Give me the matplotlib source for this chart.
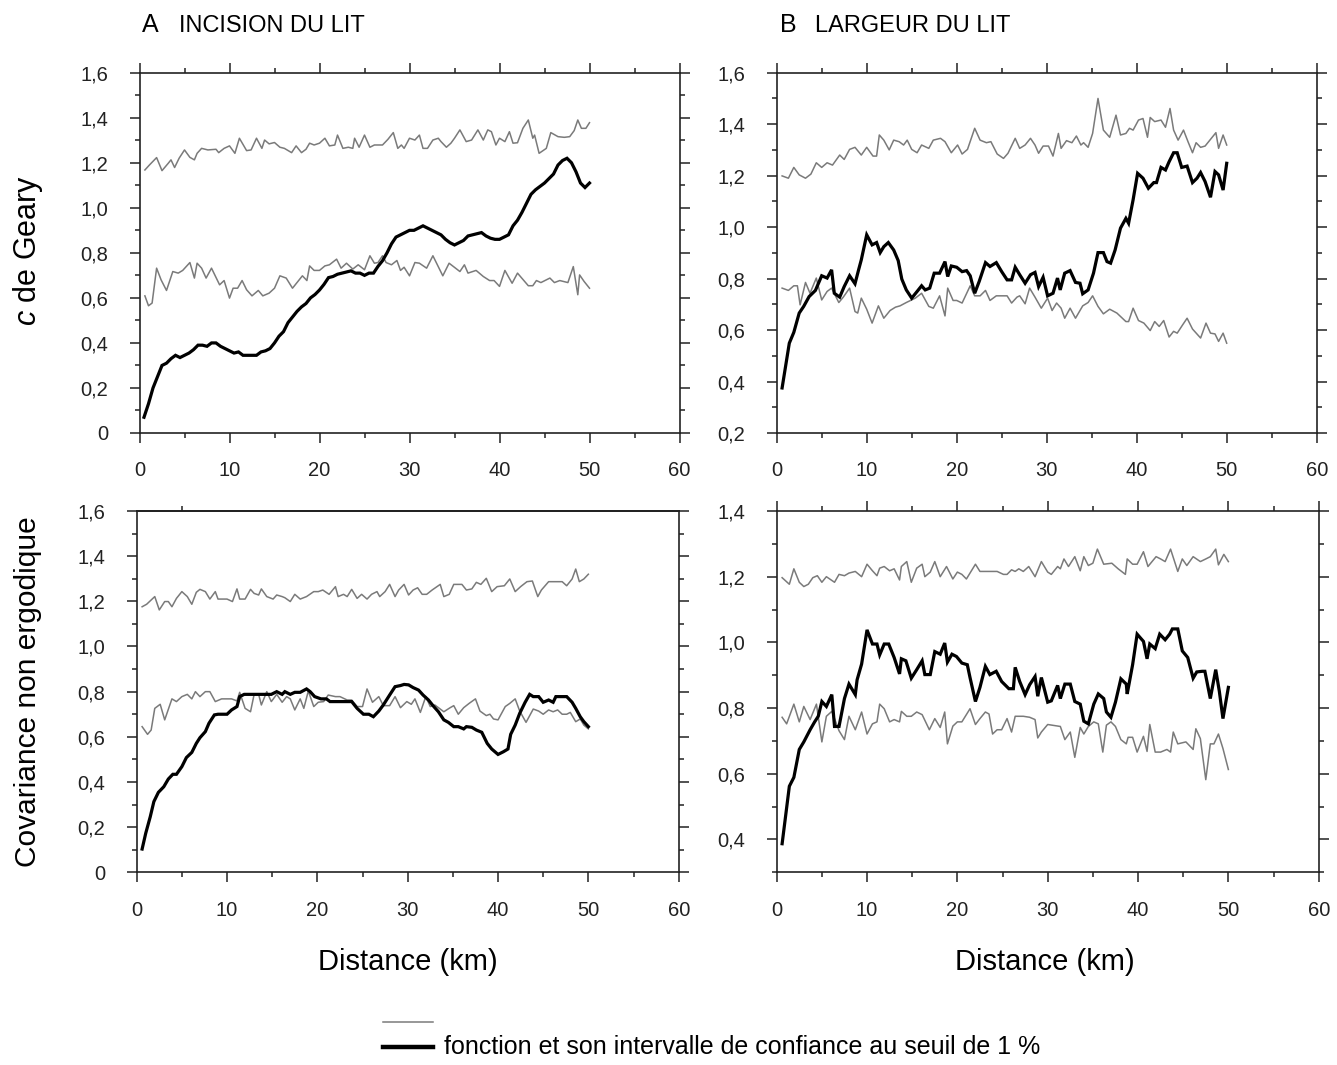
import numpy as np
import matplotlib
matplotlib.use("Agg")
import matplotlib.pyplot as plt
from matplotlib.ticker import MultipleLocator, FuncFormatter
from matplotlib.lines import Line2D

plt.rcParams['font.family'] = ['Liberation Sans', 'DejaVu Sans']
plt.rcParams['mathtext.fontset'] = 'custom'
plt.rcParams['mathtext.it'] = 'Liberation Sans:italic'
plt.rcParams['mathtext.rm'] = 'Liberation Sans'

# ---- A: incision du lit, c de Geary ----
a_geary_lag = np.arange(0.5, 50.01, 0.5)
a_geary_fn = [0.07, 0.13, 0.20, 0.25, 0.30, 0.31, 0.33, 0.345, 0.335, 0.345,
              0.355, 0.37, 0.39, 0.39, 0.385, 0.40, 0.40, 0.385, 0.375, 0.365,
              0.355, 0.36, 0.345, 0.345, 0.345, 0.345, 0.36, 0.365, 0.375, 0.40,
              0.43, 0.45, 0.49, 0.515, 0.54, 0.56, 0.575, 0.60, 0.615, 0.635,
              0.66, 0.69, 0.695, 0.705, 0.71, 0.715, 0.72, 0.71, 0.71, 0.70,
              0.71, 0.71, 0.74, 0.765, 0.80, 0.84, 0.87, 0.88, 0.89, 0.90,
              0.90, 0.91, 0.92, 0.91, 0.90, 0.89, 0.88, 0.86, 0.845, 0.835,
              0.845, 0.855, 0.875, 0.88, 0.885, 0.89, 0.875, 0.865, 0.86, 0.86,
              0.87, 0.88, 0.92, 0.945, 0.98, 1.02, 1.06, 1.08, 1.095, 1.11,
              1.13, 1.15, 1.19, 1.21, 1.22, 1.20, 1.16, 1.11, 1.09, 1.11]

a_geary_hi_x = [0.6, 1.1, 1.9, 2.5, 3.2, 3.5, 3.9, 4.4, 5.0, 5.6, 6.1, 6.4, 6.9, 7.6, 8.5, 8.8, 9.4, 10.0, 10.6, 11.1,
                11.9, 12.4, 13.0, 13.6, 13.9, 14.4, 15.0, 15.6, 16.1, 16.9, 17.4, 18.0, 18.5, 18.9, 19.4, 20.0, 20.6, 21.1, 21.7, 22.0,
                22.6, 23.2, 23.7, 23.9, 24.4, 25.0, 25.6, 26.1, 27.0, 27.6, 28.2, 28.7, 29.1, 29.4, 30.0, 30.6, 31.1, 31.5, 32.0, 32.6,
                33.2, 33.5, 34.1, 34.6, 35.0, 35.6, 36.3, 36.9, 37.6, 38.2, 38.7, 39.1, 39.6, 40.0, 40.6, 41.1, 41.5, 42.0, 42.6, 43.2,
                43.7, 43.9, 44.4, 45.2, 45.7, 46.5, 47.2, 47.8, 48.3, 48.7, 49.1, 49.6, 50.0]
a_geary_hi = [1.168, 1.19, 1.223, 1.165, 1.198, 1.213, 1.179, 1.22, 1.257, 1.224, 1.213, 1.242, 1.264, 1.257, 1.26, 1.245, 1.264, 1.275, 1.242, 1.309,
              1.254, 1.257, 1.309, 1.264, 1.301, 1.284, 1.29, 1.269, 1.264, 1.245, 1.275, 1.245, 1.26, 1.287, 1.279, 1.287, 1.309, 1.275, 1.279, 1.323,
              1.264, 1.269, 1.264, 1.309, 1.269, 1.323, 1.269, 1.279, 1.279, 1.304, 1.334, 1.264, 1.279, 1.264, 1.309, 1.301, 1.323, 1.264, 1.264, 1.301,
              1.309, 1.294, 1.269, 1.287, 1.309, 1.346, 1.294, 1.301, 1.346, 1.301, 1.346, 1.338, 1.279, 1.309, 1.294, 1.338, 1.287, 1.289, 1.353, 1.39,
              1.309, 1.323, 1.242, 1.264, 1.334, 1.316, 1.313, 1.316, 1.343, 1.39, 1.353, 1.353, 1.378]

a_geary_lo_x = [0.6, 1.0, 1.4, 1.9, 2.4, 3.0, 3.7, 4.3, 4.8, 5.6, 6.1, 6.4, 6.9, 7.4, 8.0, 8.9, 9.4, 10.0, 10.4, 10.9,
                11.4, 11.9, 12.5, 13.2, 13.7, 14.4, 15.0, 15.6, 16.3, 17.0, 17.5, 18.1, 18.6, 18.9, 19.4, 20.0, 20.6, 21.1, 21.9, 22.4,
                23.0, 23.7, 24.3, 25.0, 25.6, 26.1, 26.5, 27.0, 27.4, 28.0, 28.6, 29.0, 29.4, 30.0, 30.6, 31.1, 31.9, 32.6, 33.7, 34.4,
                35.6, 36.1, 36.5, 37.4, 38.2, 38.9, 39.4, 40.0, 40.6, 41.4, 42.0, 43.2, 43.7, 44.1, 44.6, 45.6, 46.1, 46.7, 47.6, 48.2,
                48.7, 48.9, 49.4, 50.0]
a_geary_lo = [0.609, 0.565, 0.577, 0.732, 0.68, 0.633, 0.717, 0.71, 0.722, 0.757, 0.688, 0.754, 0.732, 0.688, 0.732, 0.658, 0.677, 0.599, 0.643, 0.643,
              0.677, 0.636, 0.609, 0.633, 0.609, 0.621, 0.643, 0.698, 0.688, 0.643, 0.668, 0.698, 0.677, 0.742, 0.722, 0.722, 0.742, 0.747, 0.772, 0.732,
              0.754, 0.728, 0.747, 0.725, 0.787, 0.754, 0.757, 0.787, 0.757, 0.747, 0.766, 0.722, 0.736, 0.698, 0.757, 0.754, 0.732, 0.787, 0.698, 0.754,
              0.717, 0.747, 0.71, 0.722, 0.695, 0.677, 0.677, 0.651, 0.722, 0.665, 0.71, 0.654, 0.654, 0.677, 0.668, 0.688, 0.668, 0.677, 0.668, 0.739,
              0.614, 0.702, 0.673, 0.643]

# ---- B: largeur du lit, c de Geary ----
b_geary_x = [0.6, 1.4, 1.9, 2.5, 3.0, 3.6, 4.3, 5.0, 5.6, 6.1, 6.4, 7.0, 7.5, 8.1, 8.7, 9.1, 9.4, 10.0, 10.6, 11.1,
             11.5, 11.9, 12.4, 13.0, 13.5, 13.9, 14.4, 15.0, 15.6, 16.1, 16.5, 17.0, 17.5, 18.1, 18.7, 19.0, 19.4, 20.0, 20.6, 21.1,
             21.5, 22.0, 22.5, 23.2, 23.7, 24.4, 25.0, 25.6, 26.1, 26.5, 27.0, 27.6, 28.2, 28.7, 29.1, 29.6, 30.1, 30.7, 31.2, 31.5,
             32.0, 32.6, 33.2, 33.7, 34.0, 34.6, 35.2, 35.7, 36.3, 36.7, 37.1, 37.6, 38.2, 38.8, 39.1, 39.6, 40.1, 40.7, 41.3, 41.9,
             42.2, 42.7, 43.2, 43.6, 44.1, 44.5, 45.0, 45.6, 46.2, 46.7, 47.1, 47.6, 48.2, 48.7, 49.1, 49.6, 50.0]
b_geary_fn = [0.375, 0.549, 0.591, 0.666, 0.692, 0.73, 0.754, 0.811, 0.802, 0.834, 0.743, 0.728, 0.769, 0.811, 0.78, 0.834, 0.873, 0.97, 0.931, 0.94,
              0.901, 0.924, 0.94, 0.911, 0.87, 0.798, 0.756, 0.724, 0.75, 0.772, 0.756, 0.763, 0.821, 0.821, 0.866, 0.808, 0.849, 0.844, 0.827, 0.831,
              0.811, 0.743, 0.789, 0.862, 0.847, 0.862, 0.827, 0.795, 0.795, 0.844, 0.815, 0.782, 0.815, 0.824, 0.769, 0.805, 0.733, 0.743, 0.802, 0.756,
              0.821, 0.831, 0.785, 0.782, 0.741, 0.756, 0.821, 0.901, 0.901, 0.866, 0.86, 0.911, 0.996, 1.034, 1.015, 1.106, 1.209, 1.19, 1.151, 1.173,
              1.173, 1.232, 1.222, 1.254, 1.289, 1.289, 1.232, 1.237, 1.173, 1.19, 1.212, 1.177, 1.116, 1.216, 1.203, 1.144, 1.248]

b_geary_hi_x = [0.6, 1.3, 1.9, 2.5, 3.2, 3.8, 4.4, 5.0, 5.6, 6.2, 7.0, 7.5, 8.1, 8.7, 9.4, 10.0, 10.7, 11.1, 11.4, 11.9,
                12.5, 13.0, 13.6, 14.1, 14.5, 15.0, 15.6, 16.1, 16.9, 17.4, 18.2, 18.7, 19.4, 20.1, 20.6, 21.2, 22.0, 22.6, 23.3, 23.8,
                24.5, 25.2, 25.7, 26.5, 27.0, 27.6, 28.2, 28.7, 29.1, 29.6, 30.2, 30.7, 31.3, 31.6, 32.2, 32.8, 33.3, 33.8, 34.1, 34.6,
                35.1, 35.7, 36.3, 37.0, 37.7, 38.2, 38.8, 39.2, 39.6, 40.2, 40.7, 41.2, 41.5, 42.0, 42.7, 43.2, 43.7, 44.1, 44.6, 45.2,
                45.7, 46.2, 46.6, 47.1, 47.6, 48.2, 48.8, 49.1, 49.6, 50.0]
b_geary_hi = [1.199, 1.19, 1.232, 1.203, 1.19, 1.206, 1.25, 1.232, 1.25, 1.241, 1.28, 1.263, 1.302, 1.31, 1.28, 1.31, 1.276, 1.276, 1.358, 1.338,
              1.3, 1.338, 1.332, 1.319, 1.338, 1.302, 1.289, 1.319, 1.306, 1.338, 1.345, 1.332, 1.289, 1.319, 1.284, 1.302, 1.384, 1.338, 1.328, 1.332,
              1.284, 1.267, 1.287, 1.345, 1.306, 1.319, 1.345, 1.319, 1.287, 1.315, 1.315, 1.276, 1.364, 1.306, 1.336, 1.328, 1.354, 1.319, 1.328, 1.31,
              1.364, 1.5, 1.377, 1.349, 1.435, 1.358, 1.364, 1.384, 1.377, 1.416, 1.422, 1.349, 1.426, 1.41, 1.416, 1.388, 1.461, 1.377, 1.338, 1.377,
              1.332, 1.289, 1.328, 1.31, 1.315, 1.341, 1.367, 1.306, 1.358, 1.319]

b_geary_lo_x = [0.6, 1.3, 1.9, 2.3, 2.6, 3.2, 3.7, 4.4, 5.0, 5.6, 6.1, 6.9, 7.4, 8.1, 8.7, 9.0, 9.4, 10.0, 10.6, 11.3,
                11.9, 12.6, 13.2, 13.7, 14.4, 15.4, 16.1, 16.9, 17.4, 18.1, 18.7, 19.0, 19.6, 20.0, 20.6, 21.5, 22.0, 22.6, 23.2, 23.7,
                24.4, 25.6, 26.1, 26.7, 27.0, 27.6, 28.1, 28.7, 29.4, 30.1, 30.6, 31.1, 31.6, 32.0, 32.6, 33.2, 34.0, 34.6, 35.1, 35.7,
                36.3, 37.0, 37.8, 38.8, 39.1, 39.6, 40.2, 40.8, 41.5, 42.0, 42.5, 43.0, 43.6, 44.1, 44.5, 45.1, 45.6, 46.2, 47.1, 47.7,
                48.2, 48.7, 49.1, 49.6, 50.0]
b_geary_lo = [0.763, 0.754, 0.772, 0.772, 0.698, 0.785, 0.743, 0.802, 0.717, 0.75, 0.763, 0.707, 0.728, 0.763, 0.672, 0.666, 0.724, 0.681, 0.627, 0.694,
              0.646, 0.676, 0.689, 0.694, 0.707, 0.724, 0.743, 0.692, 0.685, 0.733, 0.655, 0.763, 0.715, 0.715, 0.705, 0.772, 0.733, 0.733, 0.754, 0.715,
              0.733, 0.733, 0.705, 0.728, 0.733, 0.702, 0.763, 0.728, 0.685, 0.724, 0.676, 0.705, 0.685, 0.646, 0.685, 0.646, 0.694, 0.707, 0.733, 0.692,
              0.663, 0.681, 0.666, 0.633, 0.633, 0.685, 0.637, 0.627, 0.598, 0.633, 0.614, 0.637, 0.573, 0.595, 0.588, 0.62, 0.646, 0.604, 0.569, 0.627,
              0.588, 0.585, 0.556, 0.588, 0.549]

# ---- A: incision du lit, covariance non ergodique ----
a_cov_x = [0.6, 1.0, 1.5, 1.9, 2.4, 3.0, 3.5, 4.0, 4.4, 5.0, 5.5, 6.1, 6.6, 7.0, 7.6, 8.0, 8.6, 9.0, 10.0, 10.5,
           11.1, 11.4, 11.9, 12.6, 13.3, 14.0, 14.9, 15.5, 16.1, 16.4, 17.0, 17.5, 18.1, 18.8, 19.2, 19.7, 20.4, 21.0, 21.4, 22.1,
           22.9, 23.8, 24.4, 25.1, 25.7, 26.2, 26.8, 27.3, 28.0, 28.6, 29.2, 29.6, 30.1, 30.6, 31.2, 31.7, 32.3, 32.8, 33.4, 34.0,
           34.5, 35.1, 35.6, 36.2, 36.5, 37.1, 37.6, 38.2, 38.8, 39.3, 40.0, 40.6, 41.1, 41.4, 41.9, 42.4, 43.0, 43.5, 43.9, 44.5,
           45.0, 45.6, 46.1, 46.4, 47.1, 47.6, 48.2, 48.6, 49.1, 49.5, 50.0]
a_cov_fn = [0.103, 0.173, 0.246, 0.313, 0.354, 0.379, 0.413, 0.434, 0.434, 0.468, 0.508, 0.531, 0.571, 0.596, 0.623, 0.66, 0.697, 0.7, 0.7, 0.719,
            0.734, 0.778, 0.788, 0.788, 0.788, 0.788, 0.788, 0.8, 0.788, 0.8, 0.788, 0.797, 0.797, 0.812, 0.8, 0.778, 0.768, 0.768, 0.756, 0.756,
            0.756, 0.756, 0.726, 0.7, 0.7, 0.689, 0.714, 0.741, 0.785, 0.822, 0.827, 0.832, 0.83, 0.818, 0.807, 0.785, 0.763, 0.738, 0.711, 0.675,
            0.664, 0.645, 0.645, 0.635, 0.645, 0.642, 0.63, 0.62, 0.571, 0.546, 0.522, 0.534, 0.546, 0.611, 0.652, 0.704, 0.753, 0.788, 0.778, 0.778,
            0.753, 0.763, 0.753, 0.778, 0.778, 0.778, 0.753, 0.726, 0.689, 0.667, 0.645]

a_cov_hi_x = [0.6, 1.1, 2.0, 2.5, 3.1, 3.5, 3.9, 4.4, 5.0, 5.6, 6.1, 6.6, 7.0, 7.6, 8.1, 8.7, 9.0, 10.0, 10.6, 11.1,
              11.4, 12.0, 12.6, 13.0, 13.5, 13.8, 14.4, 15.1, 15.5, 16.1, 16.4, 17.0, 17.5, 18.1, 18.8, 19.6, 20.1, 20.6, 21.3, 22.0,
              22.3, 22.9, 23.3, 23.8, 24.4, 24.9, 25.5, 26.0, 26.6, 26.9, 27.5, 28.0, 28.6, 29.0, 29.6, 30.1, 30.6, 31.1, 31.6, 32.1,
              32.7, 33.6, 34.0, 34.6, 35.1, 36.0, 36.5, 37.1, 37.6, 38.1, 38.7, 39.3, 39.9, 40.7, 41.3, 41.9, 42.5, 43.2, 43.8, 44.4,
              44.8, 45.6, 46.4, 47.1, 47.6, 48.2, 48.6, 49.0, 49.5, 50.0]
a_cov_hi = [1.176, 1.187, 1.221, 1.162, 1.199, 1.199, 1.176, 1.213, 1.243, 1.221, 1.187, 1.24, 1.253, 1.243, 1.21, 1.243, 1.21, 1.21, 1.199, 1.255,
            1.21, 1.21, 1.253, 1.235, 1.228, 1.255, 1.221, 1.21, 1.228, 1.221, 1.216, 1.199, 1.231, 1.21, 1.221, 1.243, 1.243, 1.25, 1.231, 1.265,
            1.221, 1.231, 1.221, 1.253, 1.213, 1.231, 1.21, 1.231, 1.243, 1.221, 1.243, 1.275, 1.221, 1.25, 1.275, 1.228, 1.25, 1.26, 1.231, 1.231,
            1.25, 1.275, 1.221, 1.231, 1.275, 1.275, 1.25, 1.255, 1.284, 1.275, 1.302, 1.243, 1.265, 1.269, 1.299, 1.243, 1.265, 1.287, 1.29, 1.221,
            1.25, 1.287, 1.287, 1.287, 1.269, 1.299, 1.343, 1.287, 1.299, 1.32]

a_cov_lo_x = [0.6, 1.2, 1.6, 2.0, 2.6, 3.1, 3.9, 4.4, 5.0, 5.6, 6.1, 6.5, 7.0, 7.6, 8.1, 8.7, 9.4, 10.5, 11.1, 11.4,
              12.0, 12.6, 13.0, 13.5, 13.8, 14.4, 14.9, 15.5, 16.1, 16.6, 17.0, 17.5, 18.1, 18.5, 19.0, 19.6, 20.1, 20.7, 21.2, 22.0,
              22.5, 23.3, 23.8, 24.4, 25.0, 25.5, 26.1, 26.8, 27.3, 28.0, 28.6, 29.2, 29.9, 30.4, 30.8, 31.4, 32.0, 32.5, 33.0, 34.0,
              34.7, 35.1, 35.6, 36.2, 36.8, 37.5, 38.0, 38.7, 39.1, 39.5, 40.0, 40.8, 41.3, 41.9, 42.4, 43.1, 43.9, 44.5, 45.0, 45.6,
              46.1, 46.6, 47.1, 47.6, 48.0, 48.6, 49.1, 49.5, 50.0]
a_cov_lo = [0.645, 0.611, 0.63, 0.726, 0.744, 0.675, 0.768, 0.756, 0.778, 0.788, 0.768, 0.8, 0.778, 0.8, 0.8, 0.756, 0.768, 0.768, 0.759, 0.797,
            0.726, 0.711, 0.788, 0.788, 0.741, 0.8, 0.756, 0.788, 0.753, 0.778, 0.768, 0.719, 0.768, 0.726, 0.803, 0.734, 0.753, 0.756, 0.785, 0.778,
            0.778, 0.763, 0.763, 0.734, 0.734, 0.812, 0.753, 0.778, 0.738, 0.738, 0.778, 0.729, 0.756, 0.744, 0.768, 0.708, 0.778, 0.734, 0.741, 0.711,
            0.729, 0.738, 0.7, 0.729, 0.748, 0.768, 0.714, 0.694, 0.7, 0.679, 0.675, 0.734, 0.748, 0.768, 0.714, 0.664, 0.723, 0.714, 0.7, 0.719,
            0.711, 0.719, 0.7, 0.7, 0.708, 0.667, 0.679, 0.652, 0.635]

# ---- B: largeur du lit, covariance non ergodique ----
b_cov_x = [0.6, 1.4, 1.9, 2.5, 3.0, 3.7, 4.2, 4.6, 5.0, 5.5, 6.1, 6.4, 6.9, 7.5, 8.0, 8.7, 8.9, 9.4, 10.0, 10.6,
           11.1, 11.4, 11.9, 12.4, 13.0, 13.6, 13.8, 14.3, 14.9, 15.5, 16.1, 16.4, 17.0, 17.5, 18.1, 18.6, 18.9, 19.4, 19.9, 20.5,
           21.1, 21.4, 22.0, 22.5, 23.1, 23.6, 24.3, 24.9, 25.7, 26.2, 26.4, 26.9, 27.5, 28.0, 28.6, 28.9, 29.3, 30.0, 30.4, 31.1,
           31.4, 31.9, 32.5, 33.0, 33.6, 34.0, 34.5, 35.1, 35.6, 36.2, 36.5, 37.0, 37.5, 38.1, 38.7, 38.8, 39.4, 39.9, 40.6, 41.0,
           41.3, 41.9, 42.4, 43.0, 43.5, 43.8, 44.4, 44.9, 45.5, 46.1, 46.5, 47.1, 47.4, 48.0, 48.6, 49.0, 49.4, 50.0]
b_cov_fn = [0.387, 0.562, 0.589, 0.674, 0.697, 0.734, 0.758, 0.775, 0.82, 0.805, 0.841, 0.744, 0.744, 0.829, 0.873, 0.841, 0.886, 0.934, 1.038, 0.995,
            0.995, 0.962, 0.995, 0.995, 0.954, 0.904, 0.95, 0.944, 0.891, 0.917, 0.944, 0.902, 0.902, 0.972, 0.964, 0.998, 0.94, 0.964, 0.957, 0.937,
            0.932, 0.893, 0.82, 0.863, 0.927, 0.902, 0.912, 0.881, 0.859, 0.859, 0.924, 0.881, 0.841, 0.871, 0.896, 0.836, 0.893, 0.818, 0.822, 0.869,
            0.829, 0.873, 0.873, 0.82, 0.812, 0.76, 0.752, 0.812, 0.843, 0.829, 0.788, 0.772, 0.818, 0.889, 0.873, 0.843, 0.932, 1.025, 1.003, 0.95,
            0.995, 0.981, 1.025, 1.008, 1.025, 1.041, 1.041, 0.974, 0.954, 0.891, 0.91, 0.912, 0.912, 0.829, 0.917, 0.851, 0.768, 0.863]

b_cov_hi_x = [0.6, 1.4, 1.9, 2.5, 3.0, 3.5, 4.0, 4.5, 5.0, 5.5, 6.4, 6.9, 7.5, 8.0, 8.7, 9.4, 10.0, 10.6, 11.1, 11.4,
              11.9, 12.5, 13.0, 13.6, 13.8, 14.4, 14.9, 15.5, 16.1, 16.4, 17.0, 17.5, 18.1, 18.8, 19.5, 20.0, 20.5, 21.0, 22.0, 22.5,
              24.4, 25.1, 25.5, 26.0, 26.4, 26.8, 27.3, 27.9, 28.6, 29.3, 30.0, 30.4, 31.1, 31.4, 31.8, 32.3, 33.0, 33.6, 34.0, 34.5,
              35.0, 35.5, 36.2, 37.1, 37.8, 38.6, 38.8, 39.4, 39.9, 40.6, 41.1, 42.0, 42.5, 43.0, 43.6, 44.4, 44.9, 45.4, 46.1, 46.9,
              47.5, 48.0, 48.6, 48.9, 49.5, 50.0]
b_cov_hi = [1.197, 1.177, 1.224, 1.183, 1.17, 1.177, 1.197, 1.203, 1.183, 1.2, 1.183, 1.207, 1.203, 1.211, 1.216, 1.2, 1.238, 1.218, 1.203, 1.226,
            1.231, 1.218, 1.224, 1.19, 1.231, 1.246, 1.183, 1.226, 1.238, 1.2, 1.214, 1.246, 1.2, 1.231, 1.193, 1.214, 1.207, 1.193, 1.238, 1.216,
            1.216, 1.207, 1.207, 1.221, 1.216, 1.224, 1.216, 1.231, 1.2, 1.246, 1.214, 1.207, 1.231, 1.224, 1.254, 1.231, 1.261, 1.218, 1.261, 1.234,
            1.241, 1.284, 1.238, 1.241, 1.224, 1.207, 1.254, 1.238, 1.238, 1.276, 1.231, 1.261, 1.254, 1.246, 1.284, 1.216, 1.254, 1.234, 1.261, 1.246,
            1.254, 1.261, 1.284, 1.236, 1.268, 1.246]

b_cov_lo_x = [0.6, 1.1, 1.9, 2.5, 3.0, 3.7, 4.4, 5.0, 5.5, 6.1, 6.9, 7.5, 8.0, 8.7, 9.4, 10.0, 10.6, 11.1, 11.4, 11.9,
              12.5, 13.0, 13.6, 13.8, 14.4, 14.9, 15.5, 16.1, 16.9, 17.5, 18.1, 18.6, 18.9, 19.5, 20.0, 20.5, 21.4, 22.0, 22.5, 23.1,
              23.5, 23.9, 24.4, 24.9, 25.5, 26.0, 26.4, 27.3, 28.0, 28.6, 28.9, 29.3, 30.0, 31.4, 31.9, 32.5, 33.0, 33.6, 34.0, 34.5,
              35.1, 35.6, 36.1, 36.5, 37.0, 37.5, 38.1, 38.7, 38.9, 39.4, 39.9, 40.6, 41.0, 41.3, 41.9, 42.5, 43.2, 43.6, 43.9, 44.4,
              45.3, 46.1, 46.4, 46.9, 47.5, 48.0, 48.4, 48.9, 49.4, 50.0]
b_cov_lo = [0.772, 0.752, 0.812, 0.758, 0.805, 0.765, 0.812, 0.697, 0.775, 0.79, 0.731, 0.704, 0.775, 0.734, 0.788, 0.721, 0.752, 0.758, 0.812, 0.798,
            0.758, 0.765, 0.758, 0.79, 0.775, 0.775, 0.788, 0.78, 0.734, 0.768, 0.741, 0.788, 0.691, 0.745, 0.758, 0.758, 0.798, 0.75, 0.768, 0.788,
            0.782, 0.721, 0.734, 0.734, 0.768, 0.727, 0.775, 0.775, 0.772, 0.765, 0.709, 0.727, 0.75, 0.744, 0.704, 0.727, 0.65, 0.741, 0.721, 0.744,
            0.758, 0.752, 0.666, 0.748, 0.758, 0.744, 0.704, 0.691, 0.711, 0.711, 0.666, 0.714, 0.668, 0.75, 0.666, 0.666, 0.674, 0.666, 0.727, 0.691,
            0.697, 0.674, 0.737, 0.707, 0.582, 0.691, 0.691, 0.721, 0.677, 0.613]

titles = ["A", "B"]
subtitles = ["INCISION DU LIT", "LARGEUR DU LIT"]
y_labels = ["$\\it{c}$ de Geary", "Covariance non ergodique"]
x_label = "Distance (km)"
legend_text = "fonction et son intervalle de confiance au seuil de 1 %"

GRAY = "#7a7a7a"
W, H = 1337, 1065


def ytick_fmt(v, pos):
    if abs(v) < 1e-9:
        return "0"
    return f"{v:.1f}".replace(".", ",")


def setup_axis(ax, ylim):
    ax.set_xlim(0, 60)
    ax.set_ylim(*ylim)
    ax.xaxis.set_major_locator(MultipleLocator(10))
    ax.xaxis.set_minor_locator(MultipleLocator(5))
    ax.yaxis.set_major_locator(MultipleLocator(0.2))
    ax.yaxis.set_minor_locator(MultipleLocator(0.1))
    ax.yaxis.set_major_formatter(FuncFormatter(ytick_fmt))
    ax.tick_params(which="both", direction="out", top=True, right=True, width=1.1, colors="#222")
    ax.tick_params(which="major", length=7.5, labelsize=14.5)
    ax.tick_params(which="minor", length=3.6)
    ax.tick_params(axis="y", which="major", pad=15)
    ax.tick_params(axis="x", which="major", pad=13)
    for sp in ax.spines.values():
        sp.set_linewidth(1.2)
        sp.set_color("#222")


def px_axes(fig, left, right, top, bottom):
    return fig.add_axes([left / W, 1 - bottom / H, (right - left) / W, (bottom - top) / H])


fig = plt.figure(figsize=(W / 100, H / 100), dpi=100)

ax_a1 = px_axes(fig, 139.5, 679.5, 72.7, 433)
ax_b1 = px_axes(fig, 776.7, 1316.7, 72.7, 433)
ax_a2 = px_axes(fig, 136.7, 678.7, 511, 872.3)
ax_b2 = px_axes(fig, 776.7, 1318.7, 511, 872.3)

panels = [
    (ax_a1, (0, 1.6), a_geary_lag, a_geary_fn, a_geary_hi_x, a_geary_hi, a_geary_lo_x, a_geary_lo),
    (ax_b1, (0.2, 1.6), b_geary_x, b_geary_fn, b_geary_hi_x, b_geary_hi, b_geary_lo_x, b_geary_lo),
    (ax_a2, (0, 1.6), a_cov_x, a_cov_fn, a_cov_hi_x, a_cov_hi, a_cov_lo_x, a_cov_lo),
    (ax_b2, (0.3, 1.4), b_cov_x, b_cov_fn, b_cov_hi_x, b_cov_hi, b_cov_lo_x, b_cov_lo),
]

for ax, ylim, fx, fy, hx, hy, lx, ly in panels:
    setup_axis(ax, ylim)
    ax.plot(hx, hy, color=GRAY, lw=1.1)
    ax.plot(lx, ly, color=GRAY, lw=1.1)
    ax.plot(fx, fy, color="black", lw=2.3, solid_joinstyle="miter")

# lower-left panel only carries a single short tick on its top edge
ax_a2.tick_params(which="both", top=False)
sec = ax_a2.secondary_xaxis("top")
sec.set_xticks([5])
sec.tick_params(direction="out", length=3.6, width=1.1, labeltop=False, colors="#222")
sec.spines["top"].set_linewidth(1.2)

# panel headings
fig.text(142 / W, 1 - 32 / H, titles[0], fontsize=18, va="baseline", ha="left")
fig.text(179 / W, 1 - 32 / H, subtitles[0], fontsize=17, va="baseline", ha="left")
fig.text(780 / W, 1 - 32 / H, titles[1], fontsize=18, va="baseline", ha="left")
fig.text(815 / W, 1 - 32 / H, subtitles[1], fontsize=17, va="baseline", ha="left")

# axis titles
fig.text(28 / W, 1 - 250 / H, y_labels[0], fontsize=22, rotation=90, ha="center", va="center")
fig.text(28 / W, 1 - 692 / H, y_labels[1], fontsize=21.5, rotation=90, ha="center", va="center")
fig.text(408 / W, 1 - 962 / H, x_label, fontsize=21, ha="center", va="center")
fig.text(1045 / W, 1 - 962 / H, x_label, fontsize=21, ha="center", va="center")

# legend drawn by hand: grey line above black, one shared label
fig.add_artist(Line2D([383 / W, 433 / W], [1 - 1022 / H, 1 - 1022 / H], color=GRAY, lw=1.1))
fig.add_artist(Line2D([383 / W, 433 / W], [1 - 1047 / H, 1 - 1047 / H], color="black", lw=3.2))
fig.text(444 / W, 1 - 1047 / H, legend_text, fontsize=18, ha="left", va="center")

fig.savefig("out.png", dpi=100)
